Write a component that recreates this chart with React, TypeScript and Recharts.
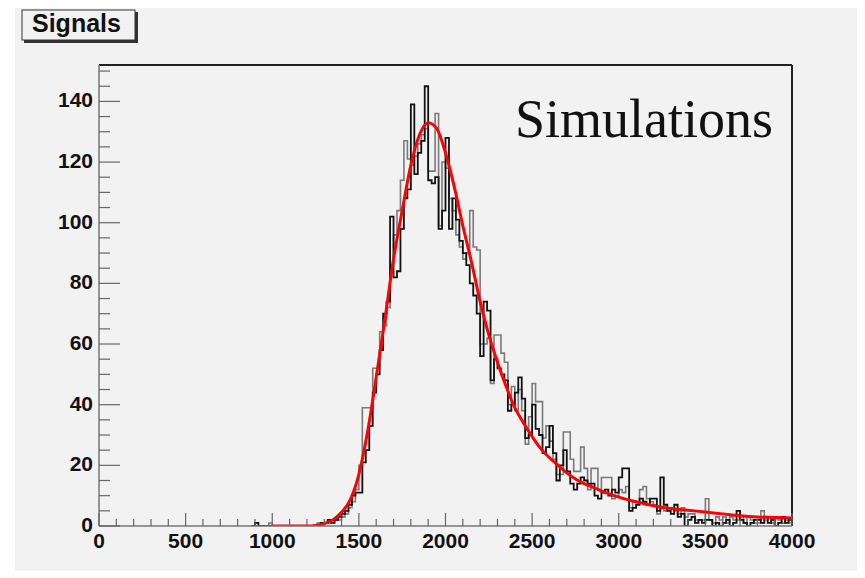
import { LineChart, Line, XAxis, YAxis, ReferenceLine } from 'recharts';

// histogram binning (20 units per bin, first bin starts at 880)
const BIN_START = 880;
const BIN_WIDTH = 20;

// black histogram, bin contents from 880 to 3980
const blackCounts = [
  0, 1, 0, 0, 0, 0,
  0, 0, 0, 0, 0, 0, 0, 0, 0, 0, // 1000
  0, 0, 0, 0, 1, 1, 2, 1, 2, 3, // 1200
  4, 5, 7, 10, 11, 11, 21, 25, 33, 44, // 1400
  50, 58, 70, 74, 102, 82, 84, 98, 108, 111, // 1600
  139, 116, 123, 127, 145, 114, 113, 115, 98, 104, // 1800
  128, 98, 108, 101, 94, 90, 86, 80, 76, 70, // 2000
  56, 74, 71, 48, 55, 52, 50, 48, 38, 40, // 2200
  44, 49, 42, 29, 30, 40, 32, 30, 24, 26, // 2400
  33, 24, 15, 20, 25, 18, 14, 12, 14, 16, // 2600
  15, 14, 14, 10, 9, 11, 12, 10, 12, 11, // 2800
  16, 19, 19, 5, 6, 7, 9, 8, 7, 9, // 3000
  9, 5, 16, 7, 5, 4, 7, 3, 4, 0, // 3200
  2, 3, 1, 2, 1, 2, 2, 0, 1, 0, // 3400
  1, 2, 0, 1, 5, 2, 1, 0, 1, 2, // 3600
  2, 1, 3, 1, 2, 0, 1, 3, 1, 2, // 3800
];

// grey histogram, same binning
const grayCounts = [
  0, 0, 0, 0, 0, 1,
  0, 0, 0, 0, 0, 0, 0, 0, 0, 0, // 1000
  0, 0, 0, 1, 0, 1, 1, 2, 2, 2, // 1200
  3, 4, 6, 8, 12, 20, 39, 39, 39, 52, // 1400
  52, 64, 66, 72, 86, 96, 104, 114, 127, 121, // 1600
  119, 122, 126, 129, 131, 117, 117, 136, 99, 120, // 1800
  118, 108, 104, 96, 92, 88, 90, 104, 92, 91, // 2000
  60, 60, 62, 47, 63, 63, 57, 54, 40, 46, // 2200
  38, 45, 38, 27, 36, 47, 41, 41, 29, 33, // 2400
  28, 22, 17, 17, 31, 31, 22, 18, 18, 26, // 2600
  19, 12, 19, 19, 12, 16, 16, 16, 9, 10, // 2800
  12, 11, 13, 6, 8, 8, 12, 13, 9, 8, // 3000
  7, 4, 6, 5, 6, 6, 5, 4, 6, 3, // 3200
  4, 4, 2, 2, 2, 9, 2, 1, 3, 2, // 3400
  3, 1, 3, 2, 2, 3, 1, 3, 2, 1, // 3600
  1, 5, 2, 3, 1, 3, 2, 1, 2, 1, // 3800
];

// red fit curve
const fitX = [
  1000, 1100, 1200, 1250, 1300, 1350, 1400, 1450, 1500, 1550, 1600, 1650, 1700,
  1750, 1800, 1850, 1900, 1950, 2000, 2050, 2100, 2150, 2200, 2250, 2300, 2350,
  2400, 2450, 2500, 2550, 2600, 2650, 2700, 2750, 2800, 2850, 2900, 2950, 3000,
  3100, 3200, 3300, 3400, 3500, 3600, 3700, 3800, 3900, 4000,
];
const fitY = [
  0, 0, 0, 0.2, 0.8, 2, 4.5, 8.6, 17, 31, 49, 68, 88,
  104, 119, 129, 133, 131, 123, 112, 99, 87, 74, 63, 54, 46,
  39, 34, 29.5, 25.5, 22.5, 20, 17.5, 15.5, 14, 12.8, 11.6, 10.5, 9.5,
  8, 6.7, 5.8, 5.2, 4.6, 4, 3.4, 3, 2.8, 2.6,
];

const xLabels = [0, 500, 1000, 1500, 2000, 2500, 3000, 3500, 4000];
const yLabels = [0, 20, 40, 60, 80, 100, 120, 140];

const X_MAX = 4000;
const Y_MAX = 152;
const xTicks = Array.from({ length: 41 }, (_, i) => i * 100);
const yTicks = Array.from({ length: 31 }, (_, i) => i * 5);

const FONT = '"Liberation Sans", Arial, Helvetica, sans-serif';

function toSteps(counts: number[]) {
  const rows = counts.map((c, i) => ({ x: BIN_START + i * BIN_WIDTH, y: c }));
  rows.push({ x: BIN_START + counts.length * BIN_WIDTH, y: counts[counts.length - 1] });
  return rows;
}

const blackData = toSteps(blackCounts);
const grayData = toSteps(grayCounts);
const fitData = fitX.map((x, i) => ({ x, y: fitY[i] }));

function XTick(props: any) {
  const { x, y, payload } = props;
  const major = xLabels.includes(payload.value);
  return (
    <g>
      <line x1={x} x2={x} y1={y} y2={y - (major ? 13 : 7)} stroke="#666" strokeWidth={1.2} />
      {major && (
        <text x={x} y={y + 22} textAnchor="middle" fontFamily={FONT} fontWeight="bold" fontSize={21} fill="#111">
          {payload.value}
        </text>
      )}
    </g>
  );
}

function YTick(props: any) {
  const { x, y, payload } = props;
  const major = yLabels.includes(payload.value);
  return (
    <g>
      <line x1={x} x2={x + (major ? 21 : 11)} y1={y} y2={y} stroke="#666" strokeWidth={1.2} />
      {major && (
        <text x={x - 6} y={y + 6} textAnchor="end" fontFamily={FONT} fontWeight="bold" fontSize={21} fill="#111">
          {payload.value}
        </text>
      )}
    </g>
  );
}

export default function App() {
  return (
    <div style={{ position: 'absolute', left: 0, top: 0, width: 865, height: 578, background: '#fff' }}>
      <div style={{ position: 'absolute', left: 15, top: 8, width: 842, height: 563, background: '#f2f2f2' }} />
      <div style={{ position: 'absolute', left: 0, top: 0 }}>
        <LineChart width={865} height={578} margin={{ top: 65, right: 73, bottom: 22, left: 39 }}>
          <XAxis
            type="number"
            dataKey="x"
            domain={[0, X_MAX]}
            ticks={xTicks}
            interval={0}
            height={30}
            tickSize={0}
            tickMargin={0}
            tickLine={false}
            axisLine={{ stroke: '#777', strokeWidth: 1.5 }}
            tick={<XTick />}
            allowDataOverflow
          />
          <YAxis
            type="number"
            domain={[0, Y_MAX]}
            ticks={yTicks}
            interval={0}
            width={60}
            tickSize={0}
            tickMargin={0}
            tickLine={false}
            axisLine={{ stroke: '#777', strokeWidth: 1.5 }}
            tick={<YTick />}
            allowDataOverflow
          />
          <ReferenceLine y={Y_MAX} stroke="#222" strokeWidth={2} />
          <ReferenceLine x={X_MAX} stroke="#222" strokeWidth={2} />
          <Line
            data={grayData}
            dataKey="y"
            type="stepAfter"
            stroke="#7a7a7a"
            strokeWidth={1.6}
            dot={false}
            activeDot={false}
            isAnimationActive={false}
          />
          <Line
            data={blackData}
            dataKey="y"
            type="stepAfter"
            stroke="#111"
            strokeWidth={1.8}
            dot={false}
            activeDot={false}
            isAnimationActive={false}
          />
          <Line
            data={fitData}
            dataKey="y"
            type="monotone"
            stroke="#ff0000"
            strokeWidth={3}
            dot={false}
            activeDot={false}
            isAnimationActive={false}
          />
        </LineChart>
      </div>
      <svg width={865} height={578} style={{ position: 'absolute', left: 0, top: 0, pointerEvents: 'none' }}>
        <rect x={24} y={12} width={114} height={31} fill="#333" />
        <rect x={22} y={10} width={113} height={30} fill="#f2f2f2" stroke="#333" strokeWidth={1} />
        <text x={32} y={32} fontFamily={FONT} fontWeight="bold" fontSize={25} fill="#111">
          Signals
        </text>
        <text x={515} y={137} fontFamily='"Liberation Serif", "Times New Roman", serif' fontSize={54} fill="#111">
          Simulations
        </text>
      </svg>
    </div>
  );
}
